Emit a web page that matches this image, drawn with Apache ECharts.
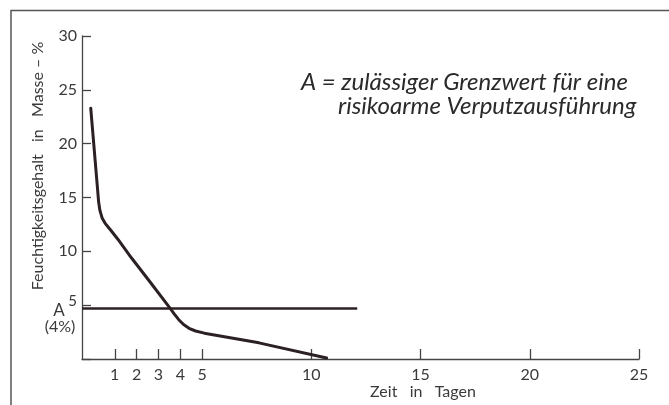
<!DOCTYPE html>
<html><head><meta charset="utf-8">
<script src="https://cdn.jsdelivr.net/npm/echarts@6/dist/echarts.min.js"></script>
<style>html,body{margin:0;padding:0;background:#fff}#c{width:669px;height:405px}</style>
</head><body><div id="c"></div>
<script>
const dayTicks = [1, 2, 3, 4, 5, 10, 15, 20, 25];
const moistureTicks = [5, 10, 15, 20, 25, 30];
const curveDays = [-0.1, 0.22, 0.26, 0.32, 0.42, 0.56, 0.8, 1.15, 1.76, 2.6, 3.52, 3.72, 3.93, 4.15, 4.4, 4.7, 5.1, 7.6, 10.7];
const curveMoisture = [23.3, 15.6, 14.6, 13.8, 13.1, 12.6, 12.0, 11.1, 9.4, 7.2, 4.74, 4.2, 3.65, 3.2, 2.85, 2.6, 2.4, 1.5, 0.1];
const limitDays = [-0.5, 12.1];
const limitMoisture = [4.7, 4.7];
const xTitle = 'Zeit   in   Tagen';
const yTitle = 'Feuchtigkeitsgehalt   in   Masse – %';
const noteLine1 = 'A = zulässiger Grenzwert für eine';
const noteLine2 = 'risikoarme Verputzausführung';

const FONT = 'Lato, "Open Sans", sans-serif';
const INK = '#2b2022';
const TXT = '#3a3a3a';

const chart = echarts.init(document.getElementById('c'), null, {renderer: 'canvas'});
chart.setOption({
  animation: false,
  backgroundColor: '#fff',
  grid: {left: 82, right: 30, top: 36, bottom: 46},
  xAxis: {
    type: 'value', min: -0.5, max: 25,
    axisLine: {onZero: false, lineStyle: {color: '#444', width: 1.3}},
    axisTick: {inside: true, length: 10, customValues: dayTicks, lineStyle: {color: '#444', width: 1.3}},
    axisLabel: {customValues: dayTicks, margin: 8, fontFamily: FONT, fontSize: 16, color: TXT},
    splitLine: {show: false}
  },
  yAxis: {
    type: 'value', min: 0, max: 30, interval: 5,
    axisLine: {show: true, onZero: false, lineStyle: {color: '#444', width: 1.3}},
    axisTick: {show: true, inside: true, length: 9, lineStyle: {color: '#444', width: 1.3}},
    axisLabel: {
      margin: 5, fontFamily: FONT, fontSize: 16, color: TXT,
      formatter: function (v) { return v === 0 ? '' : (v === 5 ? '{s|5}' : String(v)); },
      rich: {s: {fontFamily: FONT, fontSize: 15, color: TXT, padding: [0, 0, 8, 0]}}
    },
    splitLine: {show: false}
  },
  series: [
    {
      type: 'line', data: curveDays.map((d, i) => [d, curveMoisture[i]]),
      showSymbol: false, smooth: false,
      lineStyle: {color: INK, width: 3, join: 'round', cap: 'round'}
    },
    {
      type: 'line', data: limitDays.map((d, i) => [d, limitMoisture[i]]),
      showSymbol: false, lineStyle: {color: INK, width: 2.5}
    }
  ],
  graphic: [
    {type: 'polyline', shape: {points: [[11, 420], [11, 10.5], [680, 10.5]]}, style: {stroke: '#555', lineWidth: 1.5, fill: null}},
    {type: 'text', x: 423, y: 392, style: {text: xTitle, fontFamily: FONT, fontSize: 16, fill: TXT, align: 'center', verticalAlign: 'middle'}},
    {type: 'text', x: 38, y: 166, rotation: Math.PI / 2, style: {text: yTitle, fontFamily: FONT, fontSize: 16, fill: TXT, align: 'center', verticalAlign: 'middle'}},
    {type: 'text', x: 59, y: 311, style: {text: 'A', fontFamily: FONT, fontSize: 17, fill: TXT, align: 'center', verticalAlign: 'middle'}},
    {type: 'text', x: 60, y: 327, style: {text: '(4%)', fontFamily: FONT, fontSize: 16, fill: TXT, align: 'center', verticalAlign: 'middle'}},
    {type: 'text', x: 301, y: 70, style: {text: noteLine1, fontFamily: FONT, fontStyle: 'italic', fontSize: 24, fill: '#2a2a2a', align: 'left', verticalAlign: 'alphabetic'}},
    {type: 'text', x: 338, y: 94, style: {text: noteLine2, fontFamily: FONT, fontStyle: 'italic', fontSize: 24, fill: '#2a2a2a', align: 'left', verticalAlign: 'alphabetic'}}
  ]
});
</script>
</body></html>
